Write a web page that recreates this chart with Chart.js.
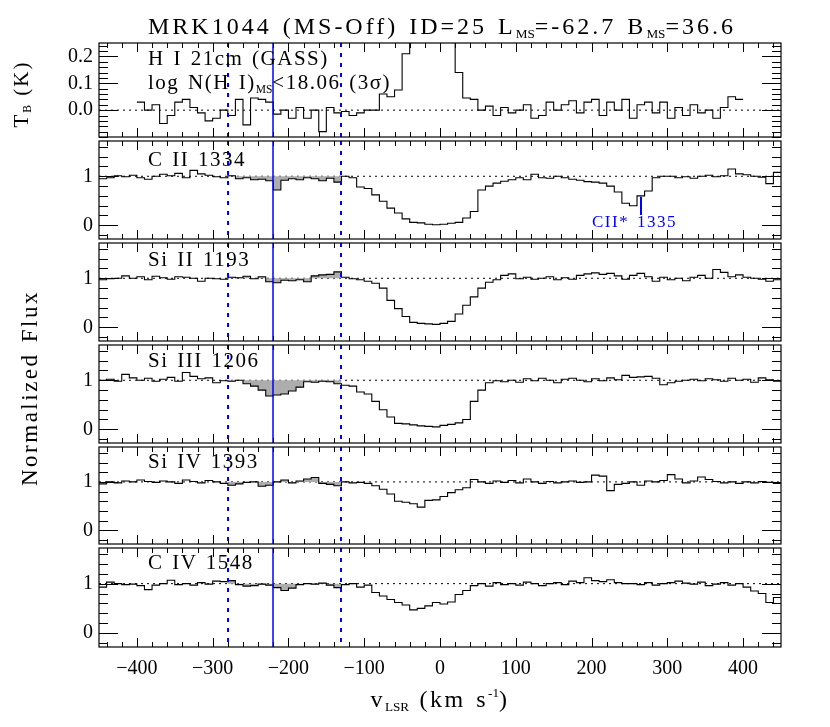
<!DOCTYPE html>
<html>
<head>
<meta charset="utf-8">
<script src="https://cdn.jsdelivr.net/npm/chart.js@4.4.0/dist/chart.umd.min.js"></script>
<style>
  body { margin: 0; background: #fff; }
  #wrap { position: relative; width: 830px; height: 727px; overflow: hidden; background: #fff;
          font-family: "Liberation Serif", "Times New Roman", serif; color: #000; }
  #wrap canvas { position: absolute; left: 0; }
  .txt { position: absolute; white-space: nowrap; line-height: 1; letter-spacing: 1.5px; word-spacing: 2px; }
  .txt sub { font-size: 55%; vertical-align: baseline; position: relative; top: 0.3em; letter-spacing: 0; }
  .txt sup { font-size: 55%; vertical-align: baseline; position: relative; top: -0.75em; letter-spacing: 0; }
</style>
</head>
<body>
<div id="wrap"></div>
<script>
const FONT = '"Liberation Serif", "Times New Roman", serif';

// x axis (velocity, km/s)
const X_MIN = -450, X_MAX = 450;
const xTickVals = [-400, -300, -200, -100, 0, 100, 200, 300, 400];
const hiTickVals = [0.0, 0.1, 0.2];
const fluxTickVals = [0, 1];

// velocity markers
const windowVel = [-280, -130];   // dotted blue lines, integration window
const centroidVel = -220;         // solid blue line
const ciiStarVel = 265;           // CII* 1335 marker

// bin centres (10 km/s bins)
const BIN = 10;
const velHI = Array.from({ length: 80 }, (_, i) => -395 + BIN * i);
const velMetal = Array.from({ length: 90 }, (_, i) => -445 + BIN * i);

// H I 21cm brightness temperature (K)
const tbHI = [
  0.03, 0.00, 0.02, -0.05, -0.02, 0.03, 0.04, 0.01, -0.01, -0.04,
  -0.03, 0.00, -0.02, 0.04, -0.055, 0.045, 0.04, 0.03, -0.015, 0.00,
  -0.03, 0.01, -0.03, 0.00, -0.08, 0.01, -0.01, -0.005, -0.02, -0.01,
  0.00, 0.00, 0.06, 0.05, 0.075, 0.21, 0.60, 1.50, 2.20, 1.80,
  1.00, 0.50, 0.14, 0.045, 0.04, 0.00, 0.015, -0.02, 0.01, -0.01,
  0.00, 0.02, -0.03, -0.02, 0.03, 0.00, 0.02, 0.035, -0.01, 0.03,
  0.04, -0.02, 0.03, 0.00, 0.04, -0.03, 0.02, 0.03, -0.01, 0.03,
  -0.03, 0.01, -0.02, 0.02, -0.01, 0.00, -0.03, 0.01, 0.05, 0.04
];

// normalized flux
const fluxCII = [
  0.95, 0.97, 1.01, 0.99, 1.02, 0.97, 0.94, 1.00, 1.04, 1.01,
  1.06, 0.97, 1.12, 1.05, 1.02, 0.99, 0.97, 1.01, 0.95, 0.97,
  0.93, 0.94, 0.91, 0.72, 0.92, 0.95, 0.93, 0.97, 0.95, 0.91,
  0.96, 0.88, 1.00, 0.97, 0.78, 0.75, 0.62, 0.49, 0.35, 0.25,
  0.13, 0.06, 0.05, 0.02, 0.01, 0.02, 0.04, 0.06, 0.15, 0.28,
  0.72, 0.80, 0.86, 0.90, 0.93, 0.97, 0.93, 1.04, 0.97, 0.96,
  1.00, 0.97, 0.94, 0.92, 0.89, 0.88, 0.86, 0.80, 0.68, 0.45,
  0.40, 0.60, 0.70, 0.97, 1.00, 1.00, 0.97, 0.99, 0.96, 1.00,
  1.02, 0.99, 1.01, 1.15, 1.05, 1.03, 1.00, 0.98, 0.85, 1.08
];
const fluxSiII = [
  0.97, 0.99, 1.00, 1.05, 1.00, 1.03, 0.97, 1.04, 1.01, 0.98,
  1.03, 1.02, 1.00, 0.94, 1.00, 0.99, 0.98, 1.02, 1.01, 1.04,
  0.99, 1.03, 0.93, 0.91, 0.96, 0.95, 0.97, 0.93, 1.05, 1.07,
  1.08, 1.13, 1.02, 0.99, 0.97, 0.94, 0.90, 0.80, 0.55, 0.38,
  0.22, 0.10, 0.08, 0.07, 0.06, 0.08, 0.12, 0.27, 0.45, 0.62,
  0.80, 0.92, 0.97, 1.06, 1.09, 0.99, 1.02, 0.98, 1.00, 1.03,
  0.97, 1.01, 0.98, 1.06, 1.09, 1.11, 1.08, 1.10, 1.05, 0.98,
  1.06, 1.10, 1.03, 0.94, 1.02, 0.97, 1.00, 0.95, 1.02, 1.06,
  1.00, 1.18, 1.12, 1.03, 1.07, 1.02, 1.00, 0.98, 0.94, 0.97
];
const fluxSiIII = [
  1.00, 1.02, 0.98, 1.12, 1.05, 1.00, 1.04, 0.98, 1.02, 1.06,
  0.98, 1.16, 1.08, 1.03, 1.05, 0.95, 0.99, 0.98, 1.00, 0.93,
  0.88, 0.80, 0.68, 0.70, 0.72, 0.78, 0.86, 0.97, 0.96, 0.98,
  0.97, 0.93, 0.90, 0.88, 0.76, 0.72, 0.57, 0.40, 0.25, 0.12,
  0.11, 0.09, 0.07, 0.06, 0.05, 0.08, 0.10, 0.13, 0.20, 0.57,
  0.80, 0.95, 0.99, 0.97, 1.00, 0.96, 1.03, 0.99, 1.04, 1.00,
  0.95, 1.02, 1.04, 1.00, 0.97, 1.03, 0.99, 1.05, 1.01, 1.10,
  1.06, 1.07, 1.08, 1.04, 0.91, 0.95, 0.98, 1.00, 1.02, 0.99,
  1.03, 1.01, 0.98, 1.04, 1.00, 1.02, 0.96, 1.05, 1.01, 0.98
];
const fluxSiIV = [
  0.96, 1.00, 0.98, 1.02, 1.00, 1.04, 1.01, 0.99, 1.02, 1.00,
  0.97, 1.04, 1.01, 0.98, 1.03, 1.00, 0.97, 0.93, 0.96, 0.99,
  1.00, 0.91, 0.93, 1.00, 1.04, 0.98, 1.02, 1.06, 1.09, 0.97,
  0.95, 0.92, 1.00, 0.98, 0.99, 0.97, 0.92, 0.85, 0.75, 0.60,
  0.58, 0.55, 0.48, 0.62, 0.63, 0.70, 0.78, 0.84, 0.88, 1.05,
  1.00, 0.97, 1.02, 0.99, 1.03, 0.98, 1.06, 1.00, 0.97, 1.01,
  0.98, 1.00, 1.02, 0.99, 1.00, 1.14, 1.12, 0.82, 0.95, 0.97,
  1.00, 0.93, 1.02, 1.00, 1.03, 1.15, 1.06, 0.98, 1.02, 1.10,
  1.05, 1.01, 0.98, 1.00, 0.97, 1.00, 0.98, 1.01, 0.99, 0.97
];
const fluxCIV = [
  0.93, 1.03, 1.00, 0.98, 0.99, 0.96, 0.88, 0.97, 1.00, 1.07,
  0.98, 1.00, 0.97, 1.02, 0.99, 1.05, 1.04, 1.06, 0.98, 0.95,
  0.96, 0.99, 0.97, 0.92, 0.86, 0.91, 0.98, 1.00, 0.99, 1.01,
  0.97, 0.92, 0.98, 1.00, 0.93, 0.97, 0.82, 0.75, 0.68, 0.62,
  0.57, 0.47, 0.50, 0.55, 0.62, 0.59, 0.63, 0.78, 0.86, 0.96,
  1.00, 0.95, 1.02, 0.98, 1.00, 0.97, 1.03, 1.00, 0.96, 1.00,
  1.02, 0.98, 1.05, 1.02, 1.12, 1.06, 1.04, 1.08, 1.02, 1.00,
  1.00, 0.98, 1.02, 0.97, 1.00, 1.02, 1.05, 1.01, 0.99, 1.03,
  0.96, 0.99, 1.02, 0.97, 1.00, 0.93, 0.85, 0.80, 0.62, 0.72
];

// panel edges in page pixels (top of each panel, last = bottom axis)
const panelEdges = [41, 139, 241, 343, 445, 546, 647];
const PAD = 16;
const XAXIS_H = 40;

const panels = [
  { vel: velHI, val: tbHI, yMin: -0.1, yMax: 0.25, ticks: hiTickVals, minor: 0.02, cont: 0, shade: false, dec: 1 },
  { vel: velMetal, val: fluxCII, yMin: -0.28, yMax: 1.72, ticks: fluxTickVals, minor: 0.2, cont: 1, shade: true, dec: 0, ciiStar: true },
  { vel: velMetal, val: fluxSiII, yMin: -0.28, yMax: 1.72, ticks: fluxTickVals, minor: 0.2, cont: 1, shade: true, dec: 0 },
  { vel: velMetal, val: fluxSiIII, yMin: -0.28, yMax: 1.72, ticks: fluxTickVals, minor: 0.2, cont: 1, shade: true, dec: 0 },
  { vel: velMetal, val: fluxSiIV, yMin: -0.28, yMax: 1.72, ticks: fluxTickVals, minor: 0.2, cont: 1, shade: true, dec: 0 },
  { vel: velMetal, val: fluxCIV, yMin: -0.28, yMax: 1.72, ticks: fluxTickVals, minor: 0.2, cont: 1, shade: true, dec: 0 }
];

const wrap = document.getElementById('wrap');

// histogram points: left bin edges, plus closing right edge
function stepPoints(vel, val, lo, hi) {
  const pts = [];
  vel.forEach((v, i) => {
    const left = v - BIN / 2;
    if (left >= lo && v + BIN / 2 <= hi) pts.push({ x: left, y: val[i] });
  });
  if (pts.length) pts.push({ x: pts[pts.length - 1].x + BIN, y: pts[pts.length - 1].y });
  return pts;
}

function tickValues(min, max, step) {
  const out = [];
  for (let k = Math.ceil(min / step - 1e-6); k * step <= max + 1e-9; k++) out.push(+(k * step).toFixed(4));
  return out;
}

function decoPlugin(p) {
  return {
    id: 'deco',
    beforeDatasetsDraw(chart) {
      const { ctx, chartArea: a, scales: { y } } = chart;
      const yc = y.getPixelForValue(p.cont);
      ctx.save();
      ctx.strokeStyle = '#000';
      ctx.lineWidth = 1;
      ctx.setLineDash([2, 4]);
      ctx.beginPath();
      ctx.moveTo(a.left, yc);
      ctx.lineTo(a.right, yc);
      ctx.stroke();
      ctx.restore();
    },
    afterDraw(chart) {
      const { ctx, chartArea: a, scales: { x, y } } = chart;
      ctx.save();
      // velocity window and centroid
      ctx.strokeStyle = '#0000ff';
      ctx.lineWidth = 2;
      ctx.setLineDash([4, 6]);
      windowVel.forEach(v => {
        const px = Math.round(x.getPixelForValue(v));
        ctx.beginPath(); ctx.moveTo(px, a.top); ctx.lineTo(px, a.bottom); ctx.stroke();
      });
      ctx.setLineDash([]);
      ctx.lineWidth = 1.5;
      const pc = Math.round(x.getPixelForValue(centroidVel));
      ctx.beginPath(); ctx.moveTo(pc, a.top); ctx.lineTo(pc, a.bottom); ctx.stroke();

      if (p.ciiStar) {
        const px = Math.round(x.getPixelForValue(ciiStarVel));
        ctx.lineWidth = 2;
        ctx.beginPath();
        ctx.moveTo(px, y.getPixelForValue(0.58));
        ctx.lineTo(px, y.getPixelForValue(0.21));
        ctx.stroke();
      }

      // frame
      ctx.strokeStyle = '#000';
      ctx.lineWidth = 1.2;
      ctx.strokeRect(a.left, a.top, a.right - a.left, a.bottom - a.top);

      // y ticks, inward on both sides
      ctx.lineWidth = 1;
      tickValues(p.yMin, p.yMax, p.minor).forEach(v => {
        const major = p.ticks.some(t => Math.abs(t - v) < 1e-6);
        const len = major ? 19 : 9;
        const py = Math.round(y.getPixelForValue(v)) + 0.5;
        ctx.beginPath();
        ctx.moveTo(a.left, py); ctx.lineTo(a.left + len, py);
        ctx.moveTo(a.right, py); ctx.lineTo(a.right - len, py);
        ctx.stroke();
      });
      // x ticks, inward top and bottom
      tickValues(X_MIN, X_MAX, 20).forEach(v => {
        const major = xTickVals.includes(v);
        const len = major ? 9 : 5;
        const px = Math.round(x.getPixelForValue(v)) + 0.5;
        ctx.beginPath();
        ctx.moveTo(px, a.top); ctx.lineTo(px, a.top + len);
        ctx.moveTo(px, a.bottom); ctx.lineTo(px, a.bottom - len);
        ctx.stroke();
      });
      ctx.restore();
    }
  };
}

panels.forEach((p, idx) => {
  const isLast = idx === panels.length - 1;
  const top = panelEdges[idx] - PAD;
  const panelH = panelEdges[idx + 1] - panelEdges[idx];
  const h = PAD + panelH + (isLast ? XAXIS_H : PAD);

  const canvas = document.createElement('canvas');
  canvas.width = 830;
  canvas.height = h;
  canvas.style.top = top + 'px';
  wrap.appendChild(canvas);

  const datasets = [{
    data: stepPoints(p.vel, p.val, -Infinity, Infinity),
    borderColor: '#000',
    borderWidth: 1.1,
    stepped: true,
    pointRadius: 0,
    fill: false,
    order: 1
  }];
  if (p.shade) {
    datasets.push({
      data: stepPoints(p.vel, p.val, windowVel[0], windowVel[1]),
      borderWidth: 0,
      borderColor: 'rgba(0,0,0,0)',
      backgroundColor: '#adadad',
      stepped: true,
      pointRadius: 0,
      fill: { value: p.cont },
      order: 2
    });
  }

  new Chart(canvas, {
    type: 'line',
    data: { datasets },
    options: {
      responsive: false,
      animation: false,
      events: [],
      layout: { padding: { top: PAD, bottom: isLast ? 0 : PAD, left: 0, right: 49 } },
      plugins: { legend: { display: false }, tooltip: { enabled: false } },
      scales: {
        x: {
          type: 'linear',
          min: X_MIN,
          max: X_MAX,
          display: isLast,
          grid: { display: false, drawTicks: false },
          border: { display: false },
          afterBuildTicks: s => { s.ticks = xTickVals.map(v => ({ value: v })); },
          afterFit: s => { s.height = isLast ? XAXIS_H : 0; },
          ticks: {
            padding: 10,
            autoSkip: false,
            maxRotation: 0,
            color: '#000',
            font: { family: FONT, size: 20 },
            callback: v => (v < 0 ? '\u2212' + Math.abs(v) : String(v))
          }
        },
        y: {
          type: 'linear',
          min: p.yMin,
          max: p.yMax,
          grid: { display: false, drawTicks: false },
          border: { display: false },
          afterBuildTicks: s => { s.ticks = p.ticks.map(v => ({ value: v })); },
          afterFit: s => { s.width = 99; },
          ticks: {
            padding: 6,
            color: '#000',
            font: { family: FONT, size: 20 },
            callback: v => v.toFixed(p.dec)
          }
        }
      }
    },
    plugins: [decoPlugin(p)]
  });
});

// text
function label(html, left, baseline, size, opts = {}) {
  const d = document.createElement('div');
  d.className = 'txt';
  d.innerHTML = html;
  d.style.fontSize = size + 'px';
  d.style.top = (baseline - 0.8375 * size) + 'px';
  d.style.left = left + 'px';
  if (opts.center) d.style.transform = 'translateX(-50%)';
  if (opts.color) d.style.color = opts.color;
  if (opts.ls) d.style.letterSpacing = opts.ls + 'px';
  wrap.appendChild(d);
  return d;
}
function vlabel(html, cx, cy, size, ls) {
  const d = document.createElement('div');
  d.className = 'txt';
  d.innerHTML = html;
  d.style.fontSize = size + 'px';
  d.style.left = cx + 'px';
  d.style.top = cy + 'px';
  if (ls) d.style.letterSpacing = ls + 'px';
  d.style.transform = 'translate(-50%, -50%) rotate(-90deg)';
  wrap.appendChild(d);
}

label('MRK1044 (MS-Off) ID=25 L<sub>MS</sub>=-62.7 B<sub>MS</sub>=36.6', 442, 34, 24, { center: true, ls: 3 });
label('H I 21cm (GASS)', 148, 66, 21);
label('log N(H I)<sub>MS</sub>&lt;18.06 (3&sigma;)', 148, 90, 21);
label('C II 1334', 148, 167, 21);
label('Si II 1193', 148, 267, 21);
label('Si III 1206', 148, 368, 21);
label('Si IV 1393', 148, 469, 21);
label('C IV 1548', 148, 570, 21);
label('CII* 1335', 592, 227, 17, { color: '#0000ff' });
label('v<sub>LSR</sub> (km s<sup>-1</sup>)', 440, 707, 24, { center: true, ls: 2.5 });
vlabel('T<sub>B</sub> (K)', 21, 94, 21, 2);
vlabel('Normalized Flux', 29, 388, 23, 2.5);
</script>
</body>
</html>
